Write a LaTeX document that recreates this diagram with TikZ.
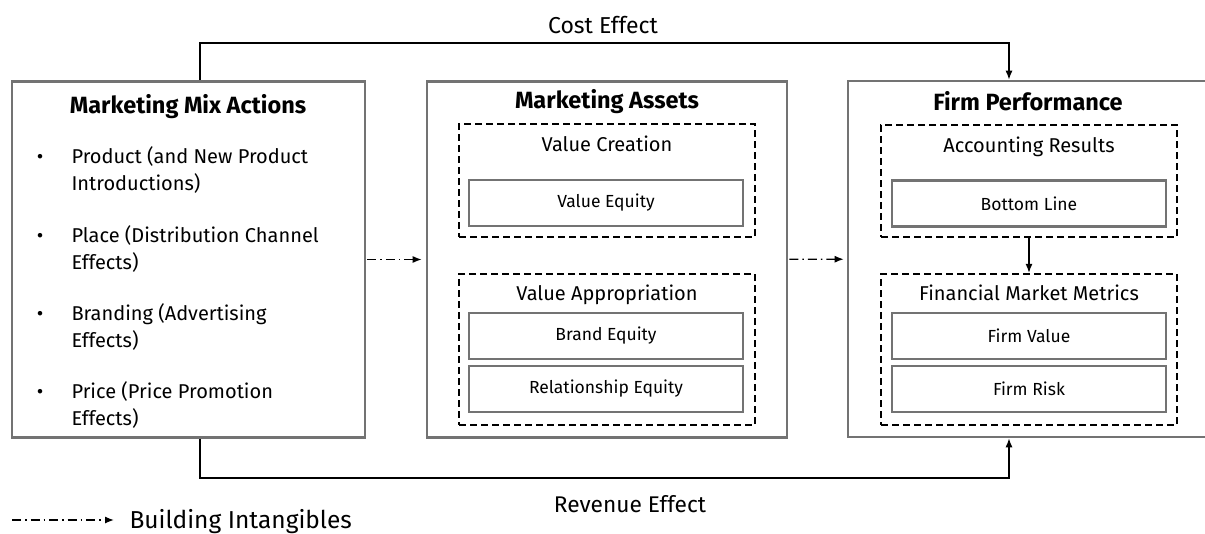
\documentclass[tikz,border=0pt]{standalone}
\usepackage{fontspec}
\setmainfont{Fira Sans}
\usetikzlibrary{arrows.meta}
\begin{document}
\begin{tikzpicture}[x=1pt,y=-1pt,
  panel/.style={draw=black!55, line width=2.6pt, minimum height=356pt},
  group/.style={draw, line width=2.3pt, dash pattern=on 7pt off 4pt, minimum width=296pt},
  item/.style={draw=black!55, line width=2.4pt, minimum width=274pt, minimum height=46pt, font=\fontsize{17.5}{21}\selectfont},
  head/.style={anchor=base, font=\fontsize{23.5}{28}\selectfont\bfseries},
  label/.style={anchor=base, font=\fontsize{20}{24}\selectfont},
  flow/.style={line width=1.3pt, -{Latex[length=9pt,width=7pt]}},
  intang/.style={flow, dash pattern=on 9pt off 4pt on 1.5pt off 4pt}]
\useasboundingbox (0,0) rectangle (1205,533);
% the three panels
\node[panel, minimum width=353pt] (mix) at (188.5,259.5){};
\node[panel, minimum width=360pt] (assets) at (607,259.5){};
\node[panel, minimum width=360pt] (perf) at (1028,259){};
\node[head] (mixT) at (188,113){Marketing Mix Actions};
\node[head] (assetsT) at (607,108){Marketing Assets};
\node[head] (perfT) at (1028,110){Firm Performance};
% marketing mix list (base sits on the second line)
\node[label, anchor=base] (b1) at (40,163){•};
\node[label, anchor=base west, align=left, font=\fontsize{20}{27}\selectfont] (l1) at (68,190){Product (and New Product\\Introductions)};
\node[label, anchor=base] (b2) at (40,242){•};
\node[label, anchor=base west, align=left, font=\fontsize{20}{27}\selectfont] (l2) at (68,269){Place (Distribution Channel\\Effects)};
\node[label, anchor=base] (b3) at (40,320){•};
\node[label, anchor=base west, align=left, font=\fontsize{20}{27}\selectfont] (l3) at (68,347){Branding (Advertising\\Effects)};
\node[label, anchor=base] (b4) at (40,398){•};
\node[label, anchor=base west, align=left, font=\fontsize{20}{27}\selectfont] (l4) at (68,425){Price (Price Promotion\\Effects)};
% marketing assets
\node[group, minimum height=113pt] (create) at (607,180.5){};
\node[label] (createT) at (607,151){Value Creation};
\node[item] (valueEq) at (606,203){Value Equity};
\node[group, minimum height=151pt] (approp) at (607,349.5){};
\node[label] (appropT) at (607,300){Value Appropriation};
\node[item] (brandEq) at (606,336){Brand Equity};
\node[item] (relEq) at (606,389){Relationship Equity};
% firm performance
\node[group, minimum height=112pt] (acc) at (1029,181){};
\node[label] (accT) at (1029,152){Accounting Results};
\node[item] (bottom) at (1029,203.5){Bottom Line};
\node[group, minimum height=151pt] (fin) at (1029,349.5){};
\node[label] (finT) at (1029,300){Financial Market Metrics};
\node[item] (firmVal) at (1029,336){Firm Value};
\node[item] (firmRisk) at (1029,389){Firm Risk};
\draw[flow](acc) -- (fin);
% building intangibles
\draw[intang, shorten <=1pt, shorten >=4pt](mix) -- (assets);
\draw[intang, shorten <=1pt, shorten >=3pt](assets) -- (perf);
% cost and revenue effects
\coordinate (costL) at (200,43);
\coordinate (costR) at (1009,43);
\draw[flow](mix.north -| costL) -- (costL) -- (costR) -- (perf.north -| costR);
\node[label, font=\fontsize{23}{27}\selectfont] (cost) at (603,33){Cost Effect};
\coordinate (revL) at (200,478);
\coordinate (revR) at (1009,478);
\draw[flow](mix.south -| revL) -- (revL) -- (revR) -- (perf.south -| revR);
\node[label, font=\fontsize{22.7}{27}\selectfont] (rev) at (630,512){Revenue Effect};
% legend
\coordinate (legA) at (12,520);
\node[label, anchor=base west, font=\fontsize{24.5}{29}\selectfont] (leg) at (126,528){Building Intangibles};
\draw[intang, shorten >=12pt](legA) -- (legA -| leg.west);
\end{tikzpicture}
\end{document}
